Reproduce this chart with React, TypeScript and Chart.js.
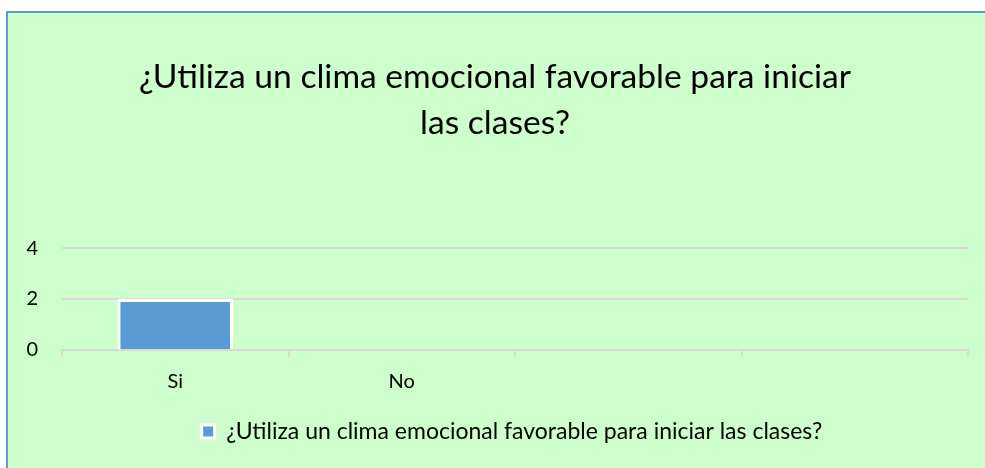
import React, { useEffect, useRef } from "react";
import { Chart, registerables } from "chart.js";

Chart.register(...registerables);

const categories = ["Si", "No", "", ""];
const seriesLabel = "¿Utiliza un clima emocional favorable para iniciar las clases?";
const seriesValues: (number | null)[] = [2, 0, null, null];
const titleLines = ["¿Utiliza un clima emocional favorable para iniciar", "las clases?"];
const yTicks = [0, 2, 4];

const FONT = "Lato, 'Open Sans', sans-serif";

const shiftLegend = {
  id: "shiftLegend",
  afterLayout(chart: any) {
    const lg = chart.legend;
    if (lg) {
      lg.left += 17;
      lg.right += 17;
    }
  },
};

export default function App() {
  const ref = useRef<HTMLCanvasElement | null>(null);
  useEffect(() => {
    if (!ref.current) return;
    const chart = new Chart(ref.current, {
      type: "bar",
      data: {
        labels: categories,
        datasets: [
          {
            label: seriesLabel,
            data: seriesValues,
            backgroundColor: "#5b9bd5",
            borderColor: "#ffffff",
            borderWidth: 3,
            categoryPercentage: 0.51,
            barPercentage: 1,
          },
        ],
      },
      plugins: [shiftLegend],
      options: {
        animation: false,
        responsive: false,
        maintainAspectRatio: false,
        layout: { padding: { left: 14, right: 17, top: 12, bottom: 15 } },
        plugins: {
          title: {
            display: true,
            text: titleLines,
            color: "#000",
            font: { family: FONT, size: 33.6, weight: "normal", lineHeight: 1.37 },
            padding: { top: 29, bottom: 102 },
          },
          legend: {
            position: "bottom",
            labels: {
              color: "#000",
              font: { family: FONT, size: 23 },
              boxWidth: 13,
              boxHeight: 13,
              padding: 9,
            },
          },
          tooltip: { enabled: false },
        },
        scales: {
          x: {
            offset: true,
            afterFit: (s: any) => {
              s.height = 61;
            },
            grid: {
              offset: true,
              drawOnChartArea: false,
              drawTicks: true,
              tickLength: 7,
              color: "#d9d9d9",
              lineWidth: 2,
            },
            border: { display: true, color: "#d9d9d9", width: 2 },
            ticks: { color: "#000", font: { family: FONT, size: 20 }, padding: 13 },
          },
          y: {
            min: 0,
            max: 4,
            afterFit: (s: any) => {
              s.width = 40;
            },
            afterBuildTicks: (s: any) => {
              s.ticks = yTicks.map((v) => ({ value: v }));
            },
            grid: { color: "#d9d9d9", lineWidth: 2, drawTicks: false },
            border: { display: false },
            ticks: { color: "#000", font: { family: FONT, size: 20 }, padding: 24 },
          },
        },
      },
    });
    return () => chart.destroy();
  }, []);
  return (
    <div
      style={{
        position: "fixed",
        left: 6,
        top: 11,
        width: 977,
        height: 455,
        borderLeft: "2px solid #5b9bd5",
        borderTop: "2px solid #5b9bd5",
        background: "#ccffcc",
      }}
    >
      <canvas ref={ref} width={977} height={455} style={{ display: "block" }} />
    </div>
  );
}
